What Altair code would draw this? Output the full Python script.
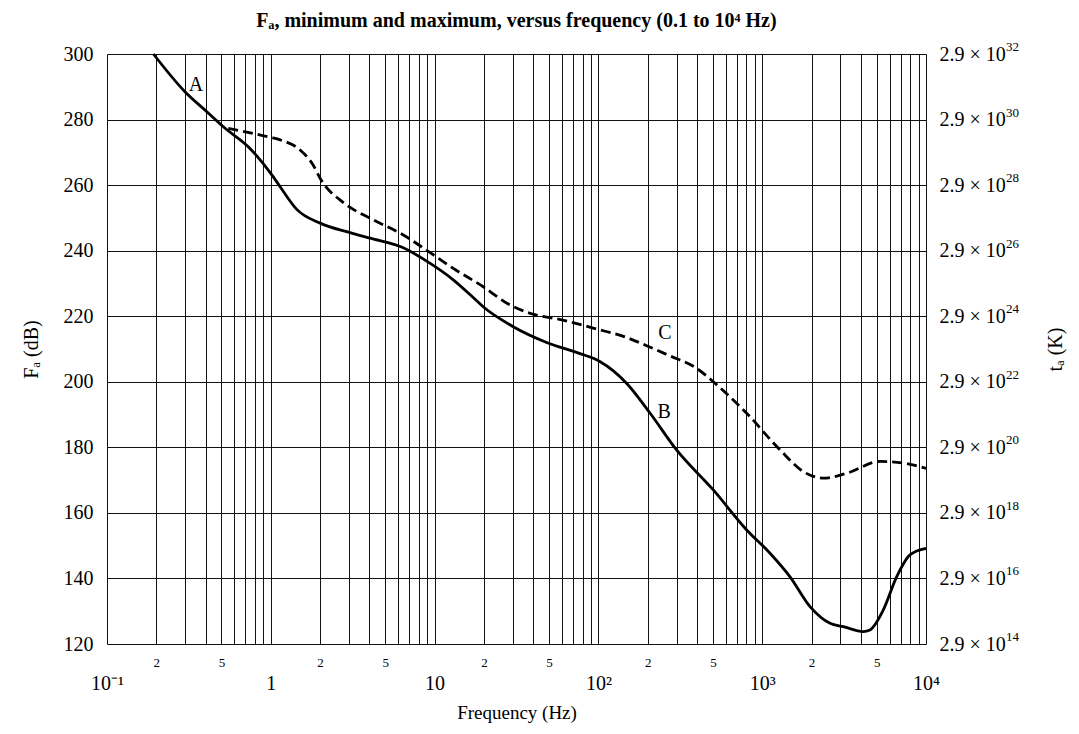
import altair as alt
import pandas as pd

# ---- data ----
freq_B = [0.192, 0.299, 0.407, 0.513, 0.746, 1.036, 1.14, 1.44, 2.0, 3.05, 4.04, 6.44, 8.95,
          13.0, 17.2, 19.8, 30.2, 48.3, 77.2, 102, 149, 207, 300, 503, 804, 1116, 1479,
          1959, 2596, 3128, 4142, 4548, 5486, 6617, 7980, 10000]
fa_B = [300.0, 288.5, 282.4, 277.8, 271.2, 262.5, 259.5, 252.6, 248.4, 245.5, 243.8, 240.9, 236.8,
        231.1, 225.7, 222.9, 216.8, 212.0, 208.6, 206.2, 199.5, 190.4, 179.2, 167.0, 154.8, 147.7,
        140.5, 131.4, 126.3, 125.3, 123.8, 124.3, 130.4, 140.5, 147.2, 149.2]

freq_C = [0.55, 0.99, 1.14, 1.51, 1.82, 2.0, 2.8, 4.04, 6.44, 9.2, 13.0, 19.8, 28.0, 38.2,
          59.6, 97.6, 149, 197, 273, 398, 503, 804, 1285, 1782, 2360, 3280, 5250, 7280, 10000]
fa_C = [277.3, 274.6, 273.8, 270.7, 266.0, 262.1, 254.5, 249.9, 244.8, 239.7, 234.6, 229.0, 223.8, 220.9,
        218.9, 216.1, 213.5, 211.0, 207.9, 204.1, 200.0, 190.4, 179.2, 172.6, 170.6, 172.1, 175.7,
        175.2, 173.6]

label_text = ["A", "B", "C"]
label_freq = [0.349, 252, 255]
label_fa = [290.5, 190.8, 214.9]

y_ticks = [120, 140, 160, 180, 200, 220, 240, 260, 280, 300]
right_base = "2.9 × 10"
right_exp = ["14", "16", "18", "20", "22", "24", "26", "28", "30", "32"]
decade_labels = ["10⁻¹", "1", "10", "10²", "10³", "10⁴"]

x_ticks = []
for e in range(-1, 4):
    for m in range(1, 10):
        x_ticks.append(round(m * 10 ** e, 6))
x_ticks.append(10000)

dfB = pd.DataFrame({"f": freq_B, "fa": fa_B})
dfC = pd.DataFrame({"f": freq_C, "fa": fa_C})
dfL = pd.DataFrame({"f": label_freq, "fa": label_fa, "t": label_text})
dfE = pd.DataFrame({"f": [10000] * len(y_ticks), "fa": y_ticks, "t": right_exp})

FONT = "Liberation Serif"

dec_arr = "[" + ",".join("'" + s + "'" for s in decade_labels) + "]"
mant = "round(datum.value / pow(10, floor(log(datum.value) / LN10 + 1e-6)))"
expo = "round(log(datum.value) / LN10)"
label_expr = (f"{mant} == 1 || {mant} == 10 ? {dec_arr}[{expo} + 1] : "
              f"({mant} == 2 || {mant} == 5 ? '' + {mant} : '')")
is_dec = f"{mant} == 1 || {mant} == 10"

x_axis = alt.Axis(
    values=x_ticks, grid=True, gridColor="#111", gridWidth=1, ticks=False, domain=False,
    labelExpr=label_expr, labelOverlap=False, labelFlush=False, labelFont=FONT,
    labelColor="#000",
    labelFontSize={"condition": {"test": is_dec, "value": 20}, "value": 13},
    labelPadding={"condition": {"test": is_dec, "value": 29}, "value": 12},
    title="Frequency (Hz)", titleFont=FONT, titleFontSize=19, titleFontWeight="normal",
    titleColor="#000", titlePadding=10,
)
x_enc = alt.X("f:Q", scale=alt.Scale(type="log", domain=[0.1, 10000], nice=False), axis=x_axis)
y_scale = alt.Scale(domain=[120, 300], nice=False, zero=False)

left_axis = alt.Axis(
    values=y_ticks, grid=True, gridColor="#111", gridWidth=1, ticks=False, domain=False,
    labelFont=FONT, labelFontSize=20, labelColor="#000", labelPadding=14,
    title="Fₐ (dB)", titleFont=FONT, titleFontSize=20, titleFontWeight="normal",
    titleColor="#000", titlePadding=22,
)
right_axis = alt.Axis(
    orient="right", values=y_ticks, grid=False, ticks=False, domain=False,
    labelExpr=f"'{right_base}'",
    labelFont=FONT, labelFontSize=20, labelColor="#000", labelPadding=13,
    title="tₐ (K)", titleFont=FONT, titleFontSize=20, titleFontWeight="normal",
    titleColor="#000", titlePadding=60, titleAngle=270,
)

solid = alt.Chart(dfB).mark_line(color="#000", strokeWidth=2.8, interpolate="monotone").encode(
    x=x_enc, y=alt.Y("fa:Q", scale=y_scale, axis=left_axis)
)
dashed = alt.Chart(dfC).mark_line(color="#000", strokeWidth=2.8, strokeDash=[10, 5],
                                  interpolate="monotone").encode(
    x=x_enc, y=alt.Y("fa:Q", scale=y_scale, axis=right_axis)
)
labels = alt.Chart(dfL).mark_text(font=FONT, fontSize=20, color="#000").encode(
    x=x_enc, y=alt.Y("fa:Q", scale=y_scale, axis=None), text="t:N"
)
exps = alt.Chart(dfE).mark_text(font=FONT, fontSize=13, color="#000", align="left",
                                baseline="middle", dx=80, dy=-7).encode(
    x=x_enc, y=alt.Y("fa:Q", scale=y_scale, axis=None), text="t:N"
)

chart = alt.layer(solid, dashed, labels, exps).resolve_axis(y="independent").resolve_scale(y="shared").properties(
    width=819, height=590,
    title=alt.TitleParams(
        "Fₐ, minimum and maximum, versus frequency (0.1 to 10⁴ Hz)",
        font=FONT, fontSize=20, fontWeight="bold", color="#000", offset=10, anchor="middle",
    ),
    autosize=alt.AutoSizeParams(type="none"),
    padding={"left": 99, "top": 46, "right": 145, "bottom": 82},
).configure_view(stroke="#000", strokeWidth=1.2).configure(background="white")

chart.save("out.html", embed_options={"renderer": "svg", "actions": False})
